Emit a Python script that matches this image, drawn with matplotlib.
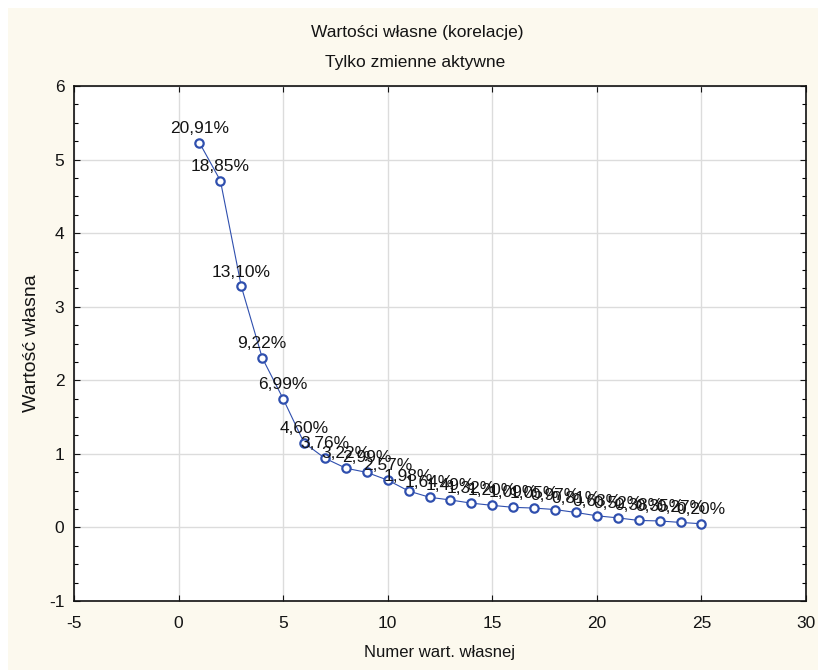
import matplotlib
matplotlib.use("Agg")
import matplotlib.pyplot as plt
from matplotlib.patches import Rectangle
from matplotlib.ticker import MultipleLocator

plt.rcParams['font.family'] = ['Liberation Sans', 'DejaVu Sans']
plt.rcParams['axes.unicode_minus'] = False

# numer wartosci wlasnej, wartosc wlasna, procent wariancji
numer = list(range(1, 26))
wartosci = [5.228, 4.713, 3.275, 2.305, 1.748, 1.150, 0.940, 0.805, 0.748, 0.643,
            0.495, 0.410, 0.373, 0.330, 0.300, 0.273, 0.263, 0.243, 0.203, 0.158,
            0.130, 0.095, 0.088, 0.068, 0.050]
procenty = ["20,91%", "18,85%", "13,10%", "9,22%", "6,99%", "4,60%", "3,76%", "3,22%",
            "2,99%", "2,57%", "1,98%", "1,64%", "1,49%", "1,32%", "1,20%", "1,09%",
            "1,05%", "0,97%", "0,81%", "0,63%", "0,52%", "0,38%", "0,35%", "0,27%", "0,20%"]

tlo = '#fcf9ee'
niebieski = '#2f4fae'
tekst = '#141414'

fig = plt.figure(figsize=(8.18, 6.70), dpi=100, facecolor='white')
fig.patches.append(Rectangle((8 / 818, 0), 1, 1 - 8 / 670, transform=fig.transFigure,
                             facecolor=tlo, edgecolor='none', zorder=-10))

ax = fig.add_axes([74 / 818, 1 - 601 / 670, 732 / 818, 515 / 670])
ax.set_facecolor('white')

ax.plot(numer, wartosci, color=niebieski, lw=0.8, marker='o', markersize=6,
        markerfacecolor='white', markeredgecolor=niebieski, markeredgewidth=1.6, zorder=3)

for x, y, s in zip(numer, wartosci, procenty):
    ax.annotate(s, (x, y), xytext=(0, 5), textcoords='offset points',
                ha='center', va='bottom', fontsize=12.5, color=tekst, zorder=4)

ax.set_xlim(-5, 30)
ax.set_ylim(-1, 6)
ax.xaxis.set_major_locator(MultipleLocator(5))
ax.yaxis.set_major_locator(MultipleLocator(1))
ax.yaxis.set_minor_locator(MultipleLocator(0.25))
ax.grid(True, which='major', color='#dcdcdc', lw=1.0)
ax.set_axisbelow(True)

ax.tick_params(axis='both', which='major', direction='in', length=4, width=0.8,
               labelsize=12.5, colors=tekst, top=True, right=True)
ax.tick_params(axis='x', which='major', pad=11)
ax.tick_params(axis='y', which='major', pad=7)
ax.tick_params(axis='y', which='minor', direction='in', length=3, width=0.8,
               left=True, right=True)
for sp in ax.spines.values():
    sp.set_color('#111111')
    sp.set_linewidth(1.2)

ax.set_xlabel('Numer wart. własnej', fontsize=12, color=tekst, labelpad=10)
ax.set_ylabel('Wartość własna', fontsize=14, color=tekst, labelpad=6)

fig.text(417 / 818, 1 - 33 / 670, 'Wartości własne (korelacje)', ha='center', va='center',
         fontsize=12.5, color=tekst)
fig.text(415 / 818, 1 - 62 / 670, 'Tylko zmienne aktywne', ha='center', va='center',
         fontsize=12.5, color=tekst)

fig.savefig('out.png', dpi=100, facecolor=fig.get_facecolor())
